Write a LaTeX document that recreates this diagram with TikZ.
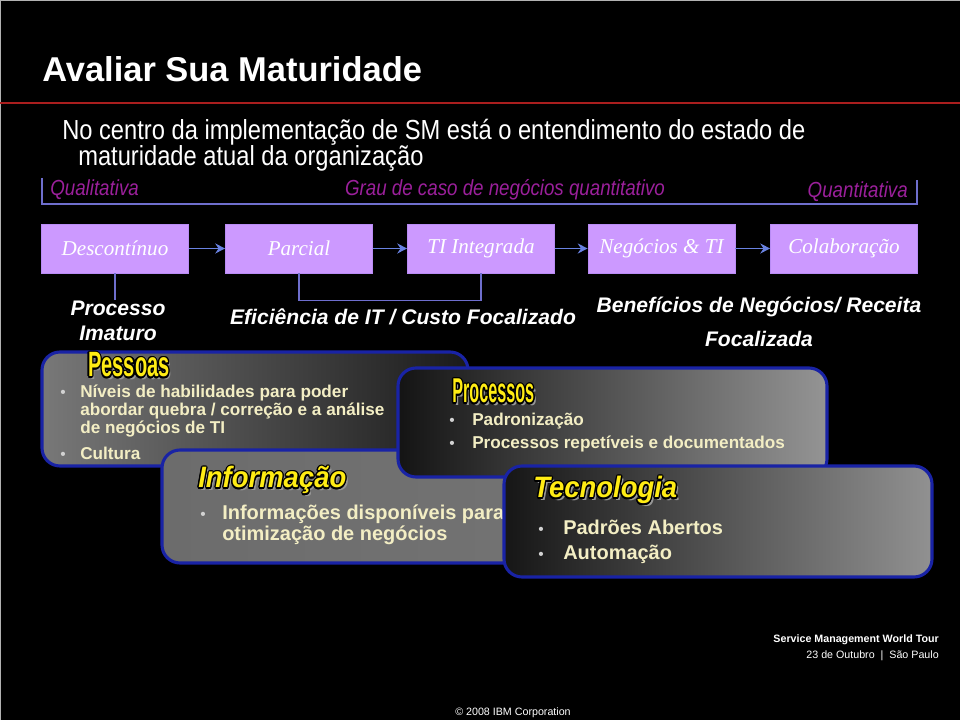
\documentclass[tikz,border=0pt]{standalone}
\usepackage{fontspec}
\setmainfont{Liberation Sans}
\newfontfamily\serifit{Liberation Serif}
\newfontfamily\narrowfont[FakeStretch=0.86]{Liberation Sans}
\newfontfamily\tallfont[FakeStretch=0.57]{Liberation Sans}
\newfontfamily\tallerfont[FakeStretch=0.47]{Liberation Sans}
\newfontfamily\slantfont[FakeStretch=0.93]{Liberation Sans}
\usetikzlibrary{calc}
\usetikzlibrary{arrows.meta}

\definecolor{stagefill}{RGB}{204,153,255}
\definecolor{stageedge}{RGB}{185,140,245}
\definecolor{linkblue}{RGB}{105,130,225}
\definecolor{brackblue}{RGB}{110,110,205}
\definecolor{scalemag}{RGB}{155,32,155}
\definecolor{titlered}{RGB}{170,30,30}
\definecolor{paneledge}{RGB}{25,35,165}
\definecolor{itemtext}{RGB}{243,238,196}
\definecolor{headyellow}{RGB}{255,236,20}
\definecolor{headshadow}{RGB}{150,150,150}

% yellow heading with black outline and grey shadow
\newcommand{\panelhead}[4]{%
  \node[#3, text=headshadow] at ($(#2)+(2.5,2.5)$) {#4};
  \foreach \ang in {0,30,...,330}
    \node[#3, text=black] at ($(#2)+(\ang:1.3)$) {#4};
  \node[#3, text=headyellow] (#1) at (#2) {#4};
}

\begin{document}
\begin{tikzpicture}[x=0.025cm, y=-0.025cm,
    stage/.style={draw=stageedge, fill=stagefill, minimum width=3.675cm, minimum height=1.225cm,
      inner sep=0pt, text=white, font=\serifit\itshape\fontsize{15}{15}\selectfont},
    stagearrow/.style={draw=linkblue, line width=1.4pt, -{Stealth[length=7pt,width=7pt]}},
    bracket/.style={draw=brackblue, line width=1pt},
    phase/.style={text=white, align=center, inner sep=0pt, font=\bfseries\itshape\fontsize{15}{17.8}\selectfont},
    scaletext/.style={anchor=base, inner sep=0pt, text=scalemag, font=\narrowfont\itshape\fontsize{15.5}{17}\selectfont},
    panel/.style={draw=paneledge, line width=2.2pt, rounded corners=0.45cm},
    item/.style={anchor=base west, inner sep=0pt, text=itemtext, font=\bfseries\fontsize{12.2}{14}\selectfont},
    bigitem/.style={item, font=\bfseries\fontsize{14.2}{16}\selectfont},
    dot/.style={anchor=base west, inner sep=0pt, text=gray!35, font=\fontsize{11}{12}\selectfont},
    headup/.style={anchor=base west, inner sep=0pt, font=\tallfont\bfseries\fontsize{25}{25}\selectfont},
    headnarrow/.style={anchor=base west, inner sep=0pt, font=\tallerfont\bfseries\fontsize{24.5}{25}\selectfont},
    headslant/.style={anchor=base west, inner sep=0pt, font=\slantfont\bfseries\itshape\fontsize{21}{21}\selectfont},
    foot/.style={inner sep=0pt, text=white, font=\fontsize{7.6}{9}\selectfont}]

    \fill[black] (0,0) rectangle (960,720);
    \useasboundingbox (0,0) rectangle (960,720);
    \draw[gray!60, line width=0.8pt] (0.6,720) -- (0.6,0.6) -- (960,0.6);

    % title
    \node[anchor=base west, inner sep=0pt, text=white, font=\bfseries\fontsize{24.5}{26}\selectfont] (title) at (42,82) {Avaliar Sua Maturidade};
    \coordinate (redL) at (0,103);
    \coordinate (redR) at (960,103);
    \draw[titlered, line width=1.1pt] (redL) -- (redR);
    \node[anchor=base west, inner sep=0pt, text=white, font=\narrowfont\fontsize{19.6}{22}\selectfont] (intro1) at (62,140) {No centro da implementação de SM está o entendimento do estado de};
    \node[anchor=base west, inner sep=0pt, text=white, font=\narrowfont\fontsize{19.6}{22}\selectfont] (intro2) at (78,166) {maturidade atual da organização};

    % scale
    \coordinate (brTL) at (42,178);
    \coordinate (brTR) at (917,180);
    \draw[bracket] (brTL) -- ++(0,26) -| (brTR);
    \node[scaletext, anchor=base west] (qual) at (50,196) {Qualitativa};
    \node[scaletext] (grau) at (505,196) {Grau de caso de negócios quantitativo};
    \node[scaletext, anchor=base east] (quant) at (908,198) {Quantitativa};

    % stages
    \node[stage] (desc) at (115,248.5) {Descontínuo};
    \node[stage] (parc) at (299,248.5) {Parcial};
    \node[stage] (tiint) at (481,248.5) {TI Integrada};
    \node[stage] (negti) at (661.5,248.5) {Negócios \& TI};
    \node[stage] (colab) at (844,248.5) {Colaboração};
    \foreach \a/\b in {desc/parc, parc/tiint, tiint/negti, negti/colab}
        \draw[stagearrow] (\a) -- (\b);

    \coordinate (descEnd) at (115,300);
    \draw[bracket] (desc.south) -- (descEnd);
    \draw[bracket] (parc.south) -- ++(0,27) -| (tiint.south);

    \node[phase] (imat) at (118,321) {Processo\\Imaturo};
    \node[phase, anchor=base] (efic) at (403,325) {Eficiência de IT / Custo Focalizado};
    \node[phase, font=\bfseries\itshape\fontsize{15}{24}\selectfont] (benef) at (759,322) {Benefícios de Negócios/ Receita\\Focalizada};

    % Pessoas
    \draw[panel, left color={rgb,255:red,120;green,120;blue,120}, right color={rgb,255:red,26;green,26;blue,26}] (42,352) rectangle (468,466);
    \panelhead{pesshead}{88,377}{headup}{Pessoas}
    \node[dot] (pessdot1) at (60,398) {\textbullet};
    \node[item] (pess1) at (80,398) {Níveis de habilidades para poder};
    \node[item] (pess2) at (80,416) {abordar quebra / correção e a análise};
    \node[item] (pess3) at (80,434) {de negócios de TI};
    \node[dot] (pessdot2) at (60,460) {\textbullet};
    \node[item] (pess4) at (80,460) {Cultura};

    % Informacao
    \draw[panel, left color={rgb,255:red,108;green,108;blue,108}, middle color={rgb,255:red,152;green,152;blue,152}, right color={rgb,255:red,115;green,115;blue,115}] (162,450) rectangle (560,563);
    \panelhead{infohead}{198,488}{headslant}{Informação}
    \node[dot] (infodot1) at (200,520) {\textbullet};
    \node[bigitem] (info1) at (222,520) {Informações disponíveis para};
    \node[bigitem] (info2) at (222,541) {otimização de negócios};

    % Processos
    \draw[panel, left color={rgb,255:red,20;green,20;blue,20}, right color={rgb,255:red,148;green,148;blue,148}] (398,368) rectangle (827,477);
    \panelhead{prochead}{452,403}{headnarrow}{Processos}
    \node[dot] (procdot1) at (449,426) {\textbullet};
    \node[item] (proc1) at (472,426) {Padronização};
    \node[dot] (procdot2) at (449,449) {\textbullet};
    \node[item] (proc2) at (472,449) {Processos repetíveis e documentados};

    % Tecnologia
    \draw[panel, left color={rgb,255:red,22;green,22;blue,22}, right color={rgb,255:red,145;green,145;blue,145}] (504,466) rectangle (932,577);
    \panelhead{techead}{533,498}{headslant}{Tecnologia}
    \node[dot] (techdot1) at (538,535) {\textbullet};
    \node[bigitem] (tech1) at (563,535) {Padrões Abertos};
    \node[dot] (techdot2) at (538,559) {\textbullet};
    \node[bigitem] (tech2) at (563,559) {Automação};

    % footer
    \node[foot, anchor=base east, font=\bfseries\fontsize{7.6}{9}\selectfont] (tour) at (939,642) {Service Management World Tour};
    \node[foot, anchor=base east] (date) at (939,658) {23 de Outubro \ | \ São Paulo};
    \node[foot, anchor=base] (copy) at (513,715) {© 2008 IBM Corporation};
\end{tikzpicture}
\end{document}
